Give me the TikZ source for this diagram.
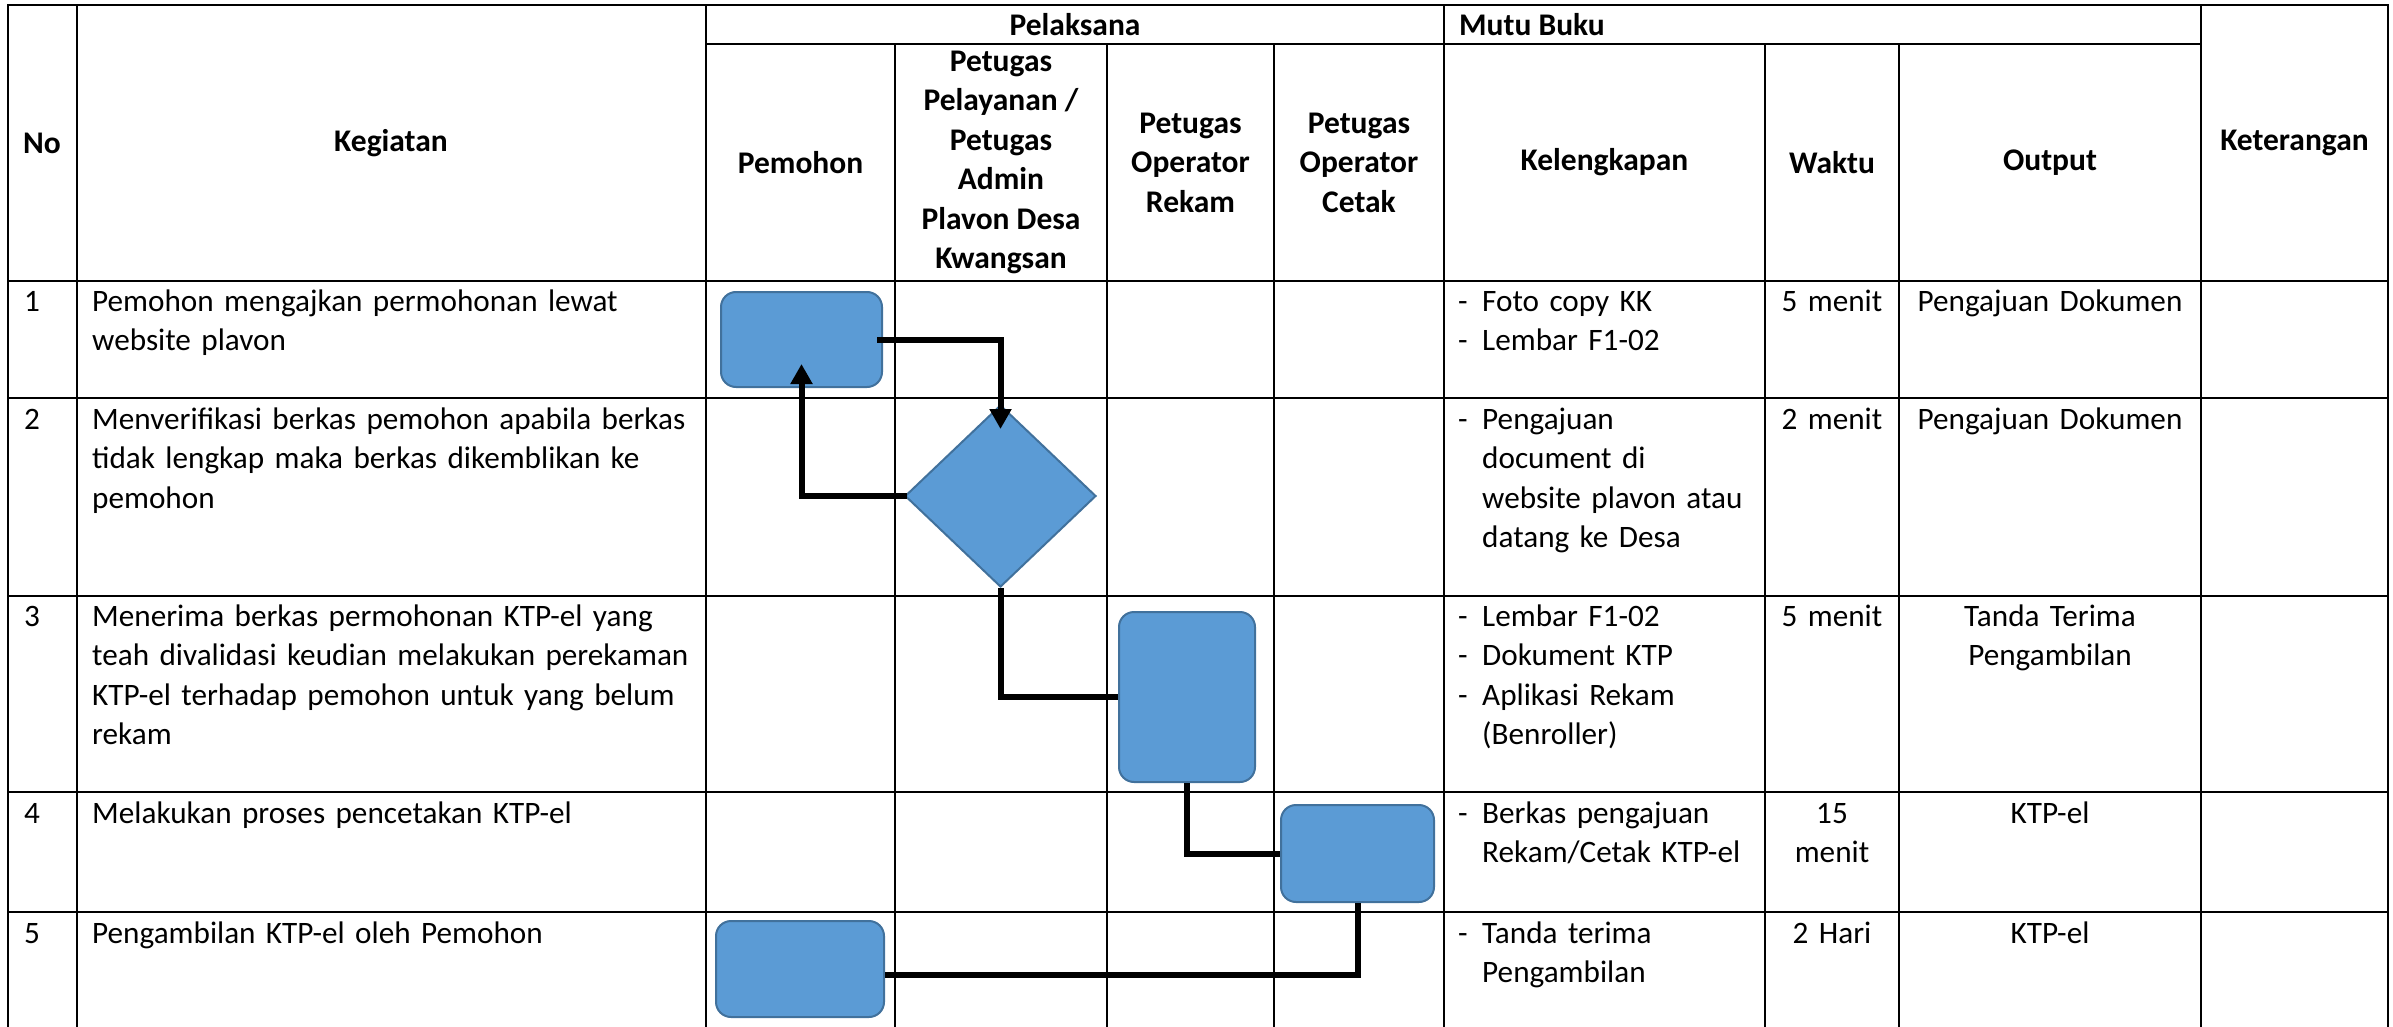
\documentclass[tikz,border=0pt]{standalone}
\usepackage{fontspec}
\setmainfont{Carlito}
\usetikzlibrary{shapes.geometric,arrows.meta}
\definecolor{boxfill}{HTML}{5B9BD5}
\definecolor{boxline}{HTML}{41719C}
\newcommand{\dsh}{\makebox[24pt][l]{-}}
\newcommand{\ind}{\hspace*{24pt}}
\begin{document}
\begin{tikzpicture}[x=1pt,y=-1pt,
  grid/.style={line width=2pt,black,line cap=rect},
  basefont/.style={font=\fontsize{31.2pt}{39.5pt}\selectfont},
  hdr/.style={font=\fontsize{31.5pt}{39.5pt}\selectfont\bfseries,inner sep=0pt,align=center,anchor=center},
  txt/.style={basefont,inner sep=0pt,align=left,anchor=base west},
  ctr/.style={basefont,inner sep=0pt,align=center,anchor=base},
  proc/.style={rectangle,rounded corners=15pt,fill=boxfill,draw=boxline,line width=2pt,inner sep=0pt},
  dec/.style={diamond,fill=boxfill,draw=boxline,line width=2pt,inner sep=0pt},
  flow/.style={line width=6pt,black,line join=miter},
  flowarrow/.style={flow,-{Triangle[width=21pt,length=20pt]}}
]
\useasboundingbox (0,0) rectangle (2393,1027);

% ---------- table grid ----------
\draw[grid] (8,5) -- (2388,5);
\draw[grid] (706,44) -- (2201,44);
\foreach \yy in {281,398,596,792,912} \draw[grid] (8,\yy) -- (2388,\yy);
\foreach \xx in {8,76.5,706,1444,2201,2388} \draw[grid] (\xx,5) -- (\xx,1027);
\foreach \xx in {895,1107,1274,1765,1899} \draw[grid] (\xx,44) -- (\xx,1027);

% ---------- header ----------
\node[hdr] (hNo) at (42,143) {No};
\node[hdr] (hKeg) at (391,143) {Kegiatan};
\node[hdr] (hPel) at (1075,24.5) {Pelaksana};
\node[hdr,anchor=west] (hMutu) at (1459,24.5) {Mutu Buku};
\node[hdr] (hPem) at (800.5,162.5) {Pemohon};
\node[hdr] (hPetA) at (1001,162.5) {Petugas\\Pelayanan /\\Petugas\\Admin\\Plavon Desa\\Kwangsan};
\node[hdr] (hRek) at (1190.5,162.5) {Petugas\\Operator\\Rekam};
\node[hdr] (hCet) at (1359,162.5) {Petugas\\Operator\\Cetak};
\node[hdr] (hKel) at (1604.5,162.5) {Kelengkapan};
\node[hdr] (hWak) at (1832,162.5) {Waktu};
\node[hdr] (hOut) at (2050,162.5) {Output};
\node[hdr] (hKet) at (2294.5,143) {Keterangan};

% ---------- row numbers ----------
\node[txt] (n1) at (24,311) {1};
\node[txt] (n2) at (24,429) {2};
\node[txt] (n3) at (24,626) {3};
\node[txt] (n4) at (24,823) {4};
\node[txt] (n5) at (24,943) {5};

% ---------- kegiatan ----------
\node[txt,text width=610pt] (k1) at (92,311) {Pemohon mengajkan permohonan lewat\\website plavon};
\node[txt,text width=610pt] (k2) at (92,429) {Menverifikasi berkas pemohon apabila berkas\\tidak lengkap maka berkas dikemblikan ke\\pemohon};
\node[txt,text width=610pt] (k3) at (92,626) {Menerima berkas permohonan KTP-el yang\\teah divalidasi keudian melakukan perekaman\\KTP-el terhadap pemohon untuk yang belum\\rekam};
\node[txt,text width=610pt] (k4) at (92,823) {Melakukan proses pencetakan KTP-el};
\node[txt,text width=610pt] (k5) at (92,943) {Pengambilan KTP-el oleh Pemohon};

% ---------- kelengkapan ----------
\node[txt,text width=305pt] (l1) at (1458,311) {\dsh Foto copy KK\\\dsh Lembar F1-02};
\node[txt,text width=305pt] (l2) at (1458,429) {\dsh Pengajuan\\\ind document di\\\ind website plavon atau\\\ind datang ke Desa};
\node[txt,text width=305pt] (l3) at (1458,626) {\dsh Lembar F1-02\\\dsh Dokument KTP\\\dsh Aplikasi Rekam\\\ind (Benroller)};
\node[txt,text width=305pt] (l4) at (1458,823) {\dsh Berkas pengajuan\\\ind Rekam/Cetak KTP-el};
\node[txt,text width=305pt] (l5) at (1458,943) {\dsh Tanda terima\\\ind Pengambilan};

% ---------- waktu ----------
\node[ctr,text width=130pt] (w1) at (1832,311) {5 menit};
\node[ctr,text width=130pt] (w2) at (1832,429) {2 menit};
\node[ctr,text width=130pt] (w3) at (1832,626) {5 menit};
\node[ctr,text width=130pt] (w4) at (1832,823) {15\\menit};
\node[ctr,text width=130pt] (w5) at (1832,943) {2 Hari};

% ---------- output ----------
\node[ctr,text width=298pt] (o1) at (2050,311) {Pengajuan Dokumen};
\node[ctr,text width=298pt] (o2) at (2050,429) {Pengajuan Dokumen};
\node[ctr,text width=298pt] (o3) at (2050,626) {Tanda Terima\\Pengambilan};
\node[ctr,text width=298pt] (o4) at (2050,823) {KTP-el};
\node[ctr,text width=298pt] (o5) at (2050,943) {KTP-el};

% ---------- flow shapes ----------
\node[proc,minimum width=161pt,minimum height=95pt] (box1) at (801.5,339.5) {};
\node[dec,minimum width=191pt,minimum height=182pt] (dia) at (1000.5,496) {};
\node[proc,minimum width=136pt,minimum height=170pt] (box3) at (1187,697) {};
\node[proc,minimum width=153pt,minimum height=97pt] (box4) at (1357.5,853.5) {};
\node[proc,minimum width=168pt,minimum height=96pt] (box5) at (800,969) {};

% ---------- connectors ----------
\draw[flowarrow] ([xshift=-6pt]box1.east) -| ([yshift=-25pt]dia.north);
\draw[flowarrow] ([xshift=3pt]dia.west) -| ([yshift=24pt]box1.south);
\draw[flow] (dia.south) |- (box3.west);
\draw[flow] (box3.south) |- (box4.west);
\draw[flow] (box4.south) |- ([yshift=-6pt]box5.east);
\end{tikzpicture}
\end{document}
